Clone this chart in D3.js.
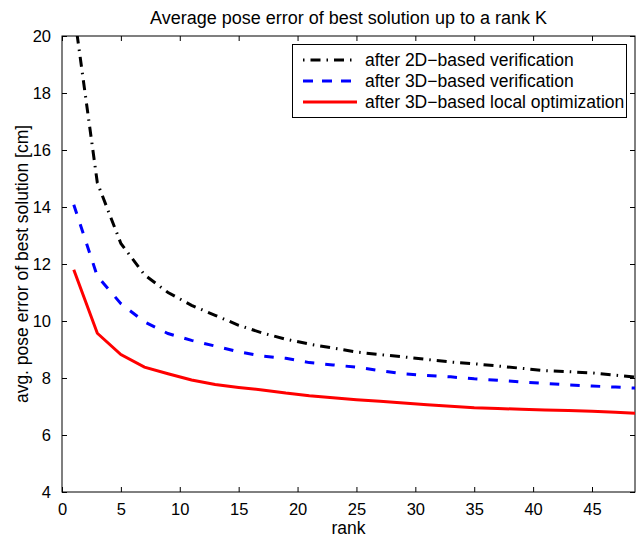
<!DOCTYPE html>
<html>
<head>
<meta charset="utf-8">
<script src="https://cdn.jsdelivr.net/npm/d3@7"></script>
<style>
  body { margin: 0; background: #fff; }
  text { font-family: "Liberation Sans", Arial, Helvetica, sans-serif; fill: #000; }
</style>
</head>
<body>
<script>
// ranks evaluated (odd values 1..49)
const ranks = [1, 3, 5, 7, 9, 11, 13, 15, 17, 19, 21, 23, 25, 27, 29, 31, 33, 35, 37, 39, 41, 43, 45, 47, 49];

const after2D = [20.9, 14.85, 12.72, 11.62, 11.0, 10.55, 10.2, 9.85, 9.58, 9.36, 9.19, 9.05, 8.91,
    8.82, 8.74, 8.65, 8.56, 8.5, 8.42, 8.34, 8.26, 8.22, 8.18, 8.1, 8.02];
const after3D = [14.08, 11.57, 10.61, 9.97, 9.56, 9.32, 9.12, 8.92, 8.77, 8.69, 8.54, 8.46, 8.38,
    8.26, 8.15, 8.09, 8.04, 7.97, 7.92, 7.86, 7.81, 7.76, 7.72, 7.68, 7.64];
const afterLocal = [11.8, 9.57, 8.82, 8.38, 8.15, 7.93, 7.77, 7.67, 7.58, 7.47, 7.38, 7.31, 7.24,
    7.18, 7.12, 7.06, 7.01, 6.96, 6.93, 6.90, 6.88, 6.86, 6.83, 6.80, 6.76];

const seriesNames = ["after 2D\u2212based verification", "after 3D\u2212based verification", "after 3D\u2212based local optimization"];
const xTicks = [0, 5, 10, 15, 20, 25, 30, 35, 40, 45];
const yTicks = [4, 6, 8, 10, 12, 14, 16, 18, 20];

const width = 636;
const height = 539;
const margin = { top: 36, right: 1, bottom: 47, left: 62 };

const svg = d3.select("body").append("svg")
    .attr("width", width)
    .attr("height", height);

const x = d3.scaleLinear().domain([0, 48.65]).range([margin.left, width - margin.right]);
const y = d3.scaleLinear().domain([4, 20]).range([height - margin.bottom, margin.top]);

svg.append("defs").append("clipPath").attr("id", "plotClip")
    .append("rect")
    .attr("x", x(0)).attr("y", y(20))
    .attr("width", x(48.65) - x(0)).attr("height", y(4) - y(20));

// axes, MATLAB style: ticks inward on all four sides
const tickLen = 5;
const axisG = svg.append("g");

axisG.append("g")
    .attr("transform", `translate(0,${y(4)})`)
    .call(d3.axisBottom(x).tickValues(xTicks).tickSizeInner(-tickLen).tickSizeOuter(0).tickPadding(11))
    .call(g => g.select(".domain").remove());

axisG.append("g")
    .attr("transform", `translate(0,${y(20)})`)
    .call(d3.axisTop(x).tickValues(xTicks).tickSizeInner(-tickLen).tickSizeOuter(0).tickFormat(""))
    .call(g => g.select(".domain").remove());

axisG.append("g")
    .attr("transform", `translate(${x(0)},0)`)
    .call(d3.axisLeft(y).tickValues(yTicks).tickSizeInner(-tickLen).tickSizeOuter(0).tickPadding(11))
    .call(g => g.select(".domain").remove());

axisG.append("g")
    .attr("transform", `translate(${x(48.65)},0)`)
    .call(d3.axisRight(y).tickValues(yTicks).tickSizeInner(-tickLen).tickSizeOuter(0).tickFormat(""))
    .call(g => g.select(".domain").remove());

axisG.selectAll(".tick line").attr("stroke", "#000").attr("stroke-width", 1);
axisG.selectAll(".tick text")
    .style("font-size", "16.5px")
    .style("font-family", "'Liberation Sans', Arial, sans-serif");

// box
svg.append("rect")
    .attr("x", x(0)).attr("y", y(20))
    .attr("width", x(48.65) - x(0)).attr("height", y(4) - y(20))
    .attr("fill", "none").attr("stroke", "#000").attr("stroke-width", 1);

// lines
const styles = [
    { color: "#000", dash: "10,6,1.5,6" },
    { color: "#0000ff", dash: "9.5,11" },
    { color: "#ff0000", dash: null }
];
const allSeries = [after2D, after3D, afterLocal];

const line = d3.line()
    .x((d, i) => x(ranks[i]))
    .y(d => y(d));

const plotG = svg.append("g").attr("clip-path", "url(#plotClip)");

allSeries.forEach((vals, i) => {
    plotG.append("path")
        .datum(vals)
        .attr("fill", "none")
        .attr("stroke", styles[i].color)
        .attr("stroke-width", 3)
        .attr("stroke-dasharray", styles[i].dash)
        .attr("d", line);
});

// title and axis labels
svg.append("text")
    .attr("x", (x(0) + x(48.65)) / 2)
    .attr("y", 24)
    .attr("text-anchor", "middle")
    .style("font-size", "18px")
    .text("Average pose error of best solution up to a rank K");

svg.append("text")
    .attr("x", (x(0) + x(48.65)) / 2)
    .attr("y", 534)
    .attr("text-anchor", "middle")
    .style("font-size", "17.5px")
    .text("rank");

svg.append("text")
    .attr("transform", `translate(28,${(y(4) + y(20)) / 2}) rotate(-90)`)
    .attr("text-anchor", "middle")
    .style("font-size", "17.5px")
    .text("avg. pose error of best solution [cm]");

// legend
const legend = svg.append("g");
legend.append("rect")
    .attr("x", 292.5).attr("y", 44.5)
    .attr("width", 334).attr("height", 73)
    .attr("fill", "#fff").attr("stroke", "#000").attr("stroke-width", 1);

seriesNames.forEach((name, i) => {
    const ly = 60 + i * 21;
    legend.append("line")
        .attr("x1", 303).attr("x2", 357)
        .attr("y1", ly).attr("y2", ly)
        .attr("stroke", styles[i].color)
        .attr("stroke-width", 3)
        .attr("stroke-dasharray", i === 0 ? "1.5,6,10,6" : (i === 1 ? "10,9" : null));
    legend.append("text")
        .attr("x", 365).attr("y", ly + 6)
        .style("font-size", "17.5px")
        .text(name);
});
</script>
</body>
</html>
